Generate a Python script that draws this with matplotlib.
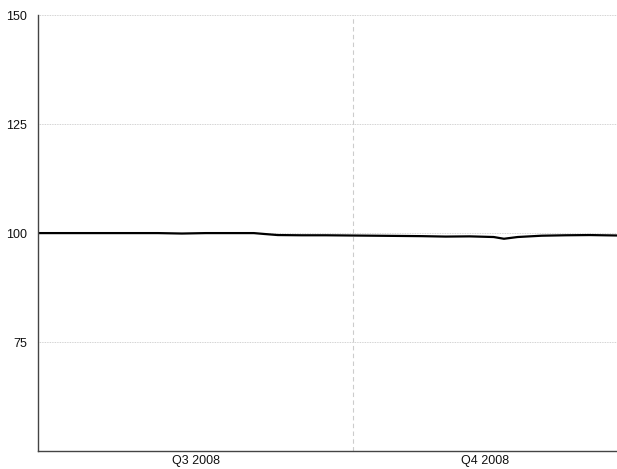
import matplotlib
matplotlib.use("Agg")
import matplotlib.pyplot as plt
import numpy as np
import pandas as pd

plt.rcParams['font.family'] = ['Liberation Sans', 'DejaVu Sans']

# data (index, start = 100)
dates = pd.to_datetime([
    "2008-07-01", "2008-07-08", "2008-07-15", "2008-07-22", "2008-07-29",
    "2008-08-05", "2008-08-12", "2008-08-19", "2008-08-26", "2008-09-02",
    "2008-09-05", "2008-09-09", "2008-09-16", "2008-09-23", "2008-09-30",
    "2008-10-07", "2008-10-14", "2008-10-21", "2008-10-28", "2008-11-04",
    "2008-11-11", "2008-11-14", "2008-11-18", "2008-11-25", "2008-12-02",
    "2008-12-09", "2008-12-17",
])
values = [
    100.0, 100.0, 100.0, 100.0, 100.0,
    100.0, 99.9, 100.0, 100.0, 100.0,
    99.8, 99.55, 99.5, 99.5, 99.45,
    99.4, 99.35, 99.3, 99.2, 99.25,
    99.1, 98.7, 99.1, 99.4, 99.5,
    99.55, 99.45,
]

y_ticks = [75, 100, 125, 150]
quarter_split = pd.Timestamp("2008-10-01")
quarter_labels = ["Q3 2008", "Q4 2008"]

fig = plt.figure(figsize=(6.17, 4.69), dpi=100)
ax = fig.add_axes([0.0616, 0.038, 0.9384, 0.930])

ax.plot(dates, values, color='black', linewidth=1.6, solid_joinstyle='round')

x0, x1 = dates[0], dates[-1]
ax.set_xlim(x0, x1)
ax.set_ylim(50, 150)

# horizontal grid
ax.set_yticks(y_ticks)
ax.yaxis.grid(True, color='#c4c4c4', linestyle=(0, (1, 1)), linewidth=0.6)
ax.axvline(quarter_split, color='#cccccc', linestyle=(0, (4, 3)), linewidth=0.8)

# quarter labels centred on the visible part of each quarter
centers = [x0 + (quarter_split - x0) / 2, quarter_split + (x1 - quarter_split) / 2]
ax.set_xticks(centers)
ax.set_xticklabels(quarter_labels)

ax.tick_params(axis='y', length=0, labelsize=9, colors='#111111', pad=8)
ax.tick_params(axis='x', length=0, labelsize=9, colors='#111111', pad=3)
for s in ['top', 'right']:
    ax.spines[s].set_visible(False)
for s in ['left', 'bottom']:
    ax.spines[s].set_color('#444444')
    ax.spines[s].set_linewidth(1.0)

fig.savefig("out.png", dpi=100)
